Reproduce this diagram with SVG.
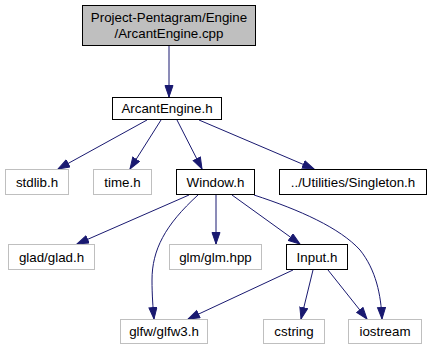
<svg xmlns="http://www.w3.org/2000/svg" width="432" height="351" viewBox="0 0 432 351">
  <style>
    text { font-family: "Liberation Sans", Arial, sans-serif; font-size: 13.33px; text-anchor: middle; fill: #000; }
    .box { fill: #fff; stroke: #000; stroke-width: 1; }
    .ext { fill: #fff; stroke: #bfbfbf; stroke-width: 1; }
    .root { fill: #bfbfbf; stroke: #000; stroke-width: 1; }
    .edge { fill: none; stroke: #191970; stroke-width: 1; marker-end: url(#arrow); }
  </style>
  <defs>
    <marker id="arrow" markerUnits="userSpaceOnUse" markerWidth="14" markerHeight="11" refX="12" refY="4.5" orient="auto">
      <polygon points="0.5,0.5 12,4.5 0.5,8.5" fill="#191970" stroke="#191970" stroke-width="1"/>
    </marker>
  </defs>

  <g id="connectors">
    <path class="edge" d="M169,46 L169,97"/>
    <path class="edge" d="M147,120 L58,169"/>
    <path class="edge" d="M161,120 L130,169"/>
    <path class="edge" d="M177,120 L202,169"/>
    <path class="edge" d="M199,120 L314,169"/>
    <path class="edge" d="M189,195 L77,244"/>
    <path class="edge" d="M198,195 C165,225 152,250 152,280 C152,295 153,308 154,319"/>
    <path class="edge" d="M216,195 L216,244"/>
    <path class="edge" d="M232,195 L300,244"/>
    <path class="edge" d="M254,195 C300,210 340,228 360,250 C376,270 381,295 382,319"/>
    <path class="edge" d="M293,270 L188,319"/>
    <path class="edge" d="M313,270 L301,319"/>
    <path class="edge" d="M328,270 L367,319"/>
  </g>

  <g id="node-arcantengine-cpp">
    <rect class="root" x="82.5" y="5.5" width="173" height="40"/>
    <text x="169" y="22">Project-Pentagram/Engine</text>
    <text x="169" y="38">/ArcantEngine.cpp</text>
  </g>
  <g id="node-arcantengine-h">
    <rect class="box" x="112.5" y="97.5" width="109" height="22"/>
    <text x="167" y="113">ArcantEngine.h</text>
  </g>
  <g id="node-stdlib">
    <rect class="ext" x="5.5" y="169.5" width="63" height="25"/>
    <text x="37" y="187">stdlib.h</text>
  </g>
  <g id="node-time">
    <rect class="ext" x="93.5" y="169.5" width="58" height="25"/>
    <text x="122.5" y="187">time.h</text>
  </g>
  <g id="node-window">
    <rect class="box" x="176.5" y="169.5" width="78" height="25"/>
    <text x="215.5" y="187">Window.h</text>
  </g>
  <g id="node-singleton">
    <rect class="box" x="279.5" y="169.5" width="147" height="25"/>
    <text x="353" y="187">../Utilities/Singleton.h</text>
  </g>
  <g id="node-glad">
    <rect class="ext" x="8.5" y="244.5" width="86" height="25"/>
    <text x="51.5" y="262">glad/glad.h</text>
  </g>
  <g id="node-glm">
    <rect class="ext" x="169.5" y="244.5" width="92" height="25"/>
    <text x="215.5" y="262">glm/glm.hpp</text>
  </g>
  <g id="node-input">
    <rect class="box" x="286.5" y="244.5" width="61" height="25"/>
    <text x="317" y="262">Input.h</text>
  </g>
  <g id="node-glfw3">
    <rect class="ext" x="120.5" y="319.5" width="87" height="24"/>
    <text x="164" y="336">glfw/glfw3.h</text>
  </g>
  <g id="node-cstring">
    <rect class="ext" x="263.5" y="319.5" width="61" height="24"/>
    <text x="294" y="336">cstring</text>
  </g>
  <g id="node-iostream">
    <rect class="ext" x="348.5" y="319.5" width="73" height="24"/>
    <text x="385" y="336">iostream</text>
  </g>
</svg>
